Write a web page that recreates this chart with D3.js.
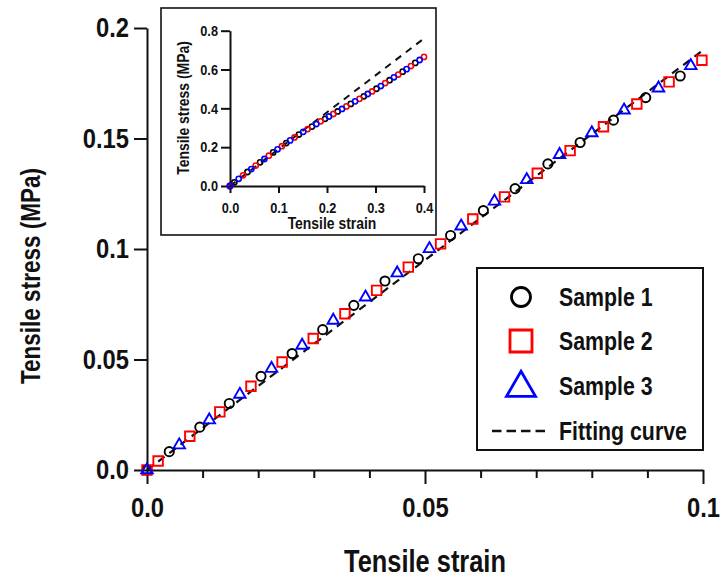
<!DOCTYPE html>
<html><head><meta charset="utf-8">
<script src="https://cdn.jsdelivr.net/npm/d3@7"></script>
<style>
body{margin:0;background:#fff}
text{font-family:"Liberation Sans","Roboto",sans-serif;font-weight:bold;fill:#111}
</style>
</head><body><svg id="c" width="724" height="580"></svg>
<script>
// ---------- main chart data ----------
const s1X=[0,0.0040,0.0095,0.0148,0.0205,0.0261,0.0316,0.0372,0.0428,0.0488,0.0546,0.0605,0.0662,0.0721,0.0779,0.0839,0.0897,0.0959];
const s1Y=[0,0.0083,0.0194,0.0301,0.0424,0.0527,0.0635,0.0745,0.0855,0.0956,0.1061,0.1174,0.1273,0.1385,0.1482,0.1583,0.1685,0.1783];
const s2X=[0,0.0020,0.0077,0.0131,0.0187,0.0243,0.0299,0.0356,0.0413,0.0470,0.0528,0.0586,0.0643,0.0702,0.0761,0.0821,0.0881,0.0939,0.0998];
const s2Y=[0,0.0041,0.0153,0.0263,0.0379,0.0489,0.0595,0.0707,0.0813,0.0918,0.1023,0.1136,0.1236,0.1343,0.1445,0.1553,0.1656,0.1756,0.1854];
const s3X=[0,0.0058,0.0112,0.0167,0.0224,0.0279,0.0335,0.0393,0.0450,0.0508,0.0565,0.0625,0.0683,0.0742,0.0800,0.0858,0.0920,0.0978];
const s3Y=[0,0.0113,0.0226,0.0342,0.0459,0.0564,0.0677,0.0782,0.0891,0.1001,0.1103,0.1216,0.1313,0.1427,0.1525,0.1628,0.1728,0.1829];
const fitX=[0,0.1];
const fitY=[0,0.19];
const xTicks=[0,0.05,0.1], xTickLabels=["0.0","0.05","0.1"];
const xMinor=[0.01,0.02,0.03,0.04,0.06,0.07,0.08,0.09];
const yTicks=[0,0.05,0.1,0.15,0.2], yTickLabels=["0.0","0.05","0.1","0.15","0.2"];
const seriesNames=["Sample 1","Sample 2","Sample 3","Fitting curve"];
const xTitle="Tensile strain", yTitle="Tensile stress (MPa)";

// ---------- inset data ----------
const i1X=[0,0.009,0.036,0.062,0.089,0.116,0.142,0.169,0.196,0.222,0.249,0.276,0.302,0.329,0.356,0.382];
const i1Y=[0,0.019,0.072,0.122,0.173,0.221,0.265,0.306,0.346,0.384,0.423,0.462,0.501,0.545,0.589,0.634];
const i2X=[0,0.027,0.053,0.080,0.107,0.133,0.160,0.187,0.213,0.240,0.267,0.293,0.320,0.347,0.373,0.400];
const i2Y=[0,0.055,0.105,0.156,0.205,0.250,0.293,0.333,0.371,0.410,0.449,0.487,0.530,0.574,0.618,0.665];
const i3X=[0,0.018,0.044,0.071,0.098,0.124,0.151,0.178,0.204,0.231,0.258,0.284,0.311,0.338,0.364,0.391];
const i3Y=[0,0.037,0.087,0.139,0.189,0.235,0.279,0.319,0.358,0.397,0.436,0.474,0.515,0.560,0.602,0.649];
const iFitX=[0,0.4];
const iFitY=[0,0.76];
const ixTicks=[0,0.1,0.2,0.3,0.4], ixTickLabels=["0.0","0.1","0.2","0.3","0.4"];
const iyTicks=[0,0.2,0.4,0.6,0.8], iyTickLabels=["0.0","0.2","0.4","0.6","0.8"];

const colors=["#000000","#ff0000","#0000ff"];
const K=0.82;  // horizontal condensing of the font for words
const KN=0.85; // for numbers

const svg=d3.select("#c");
const x=d3.scaleLinear().domain([0,0.1]).range([147,703]);
const y=d3.scaleLinear().domain([0,0.2]).range([470,28]);

function styleAxis(g,w){
  g.selectAll(".domain").attr("stroke","#111").attr("stroke-width",w);
  g.selectAll(".tick line").attr("stroke","#111").attr("stroke-width",w);
}
function condenseBottom(g,size){
  g.selectAll("text").style("font-size",size+"px").attr("dy","0.72em").attr("transform",`scale(${KN},1)`);
}
function condenseLeft(g,size){
  g.selectAll("text").style("font-size",size+"px").each(function(){
    const t=d3.select(this); t.attr("x",(+t.attr("x"))/KN).attr("transform",`scale(${KN},1)`);
  });
}
function label(parent,tx,ty,rot,size,str,anchor){
  return parent.append("text").attr("transform",`translate(${tx},${ty}) rotate(${rot}) scale(${K},1)`)
    .attr("text-anchor",anchor||"middle").attr("dominant-baseline","central")
    .style("font-size",size+"px").text(str);
}

// axes
const gx=svg.append("g").attr("transform","translate(0,470)")
  .call(d3.axisBottom(x).tickValues(xTicks).tickSize(14).tickSizeOuter(0).tickPadding(13)
    .tickFormat((d,i)=>xTickLabels[i]));
styleAxis(gx,2); condenseBottom(gx,28);
const gxm=svg.append("g").attr("transform","translate(0,470)")
  .call(d3.axisBottom(x).tickValues(xMinor).tickSize(8).tickFormat(""));
gxm.select(".domain").remove(); styleAxis(gxm,2);
const gy=svg.append("g").attr("transform","translate(147,0)")
  .call(d3.axisLeft(y).tickValues(yTicks).tickSize(13).tickSizeOuter(0).tickPadding(5)
    .tickFormat((d,i)=>yTickLabels[i]));
styleAxis(gy,2); condenseLeft(gy,28);

label(svg,425,561,0,31,xTitle);
label(svg,30,276,-90,27.5,yTitle);

// fitting line
const line=d3.line().x(d=>x(d[0])).y(d=>y(d[1]));
svg.append("path").datum(d3.zip(fitX,fitY)).attr("d",line)
  .attr("fill","none").attr("stroke","#111").attr("stroke-width",2.2).attr("stroke-dasharray","8,6");

function circlePath(r){return `M${-r},0a${r},${r} 0 1,0 ${2*r},0a${r},${r} 0 1,0 ${-2*r},0Z`;}
function squarePath(s){const h=s/2;return `M${-h},${-h}H${h}V${h}H${-h}Z`;}
function triPath(s){const h=s*Math.sqrt(3)/2;return `M0,${-2*h/3}L${s/2},${h/3}L${-s/2},${h/3}Z`;}
const shapesMain=[circlePath(4.6),squarePath(9.5),triPath(11.5)];
const mains=[[s1X,s1Y],[s2X,s2Y],[s3X,s3Y]];
mains.forEach((s,k)=>{
  svg.append("g").selectAll("path").data(d3.zip(s[0],s[1])).join("path")
    .attr("transform",d=>`translate(${x(d[0])},${y(d[1])})`)
    .attr("d",shapesMain[k]).attr("fill","none").attr("stroke",colors[k]).attr("stroke-width",1.9);
});

// legend
const lg=svg.append("g");
lg.append("rect").attr("x",477).attr("y",268).attr("width",226).attr("height",182)
  .attr("fill","#fff").attr("stroke","#111").attr("stroke-width",2);
const rows=[297,341,386,431];
const legShapes=[circlePath(9.5),squarePath(22),triPath(29)];
rows.forEach((ry,k)=>{
  if(k<3){
    lg.append("path").attr("transform",`translate(521,${k===2?ry+2:ry})`).attr("d",legShapes[k])
      .attr("fill","none").attr("stroke",colors[k]).attr("stroke-width",2.8);
  } else {
    lg.append("line").attr("x1",492).attr("x2",545).attr("y1",ry).attr("y2",ry)
      .attr("stroke","#111").attr("stroke-width",2.5).attr("stroke-dasharray","9.5,5");
  }
  label(lg,559,ry,0,26,seriesNames[k],"start");
});

// inset
const ins=svg.append("g");
ins.append("rect").attr("x",161).attr("y",8).attr("width",275).attr("height",227)
  .attr("fill","#fff").attr("stroke","#111").attr("stroke-width",1.6);
const ix=d3.scaleLinear().domain([0,0.4]).range([230,424]);
const iy=d3.scaleLinear().domain([0,0.8]).range([186,30.7]);
const igx=ins.append("g").attr("transform","translate(0,186)")
  .call(d3.axisBottom(ix).tickValues(ixTicks).tickSize(7).tickSizeOuter(0).tickPadding(9)
   .tickFormat((d,i)=>ixTickLabels[i]));
styleAxis(igx,2); condenseBottom(igx,15);
const igy=ins.append("g").attr("transform","translate(230,0)")
  .call(d3.axisLeft(iy).tickValues(iyTicks).tickSize(9).tickSizeOuter(0).tickPadding(3)
   .tickFormat((d,i)=>iyTickLabels[i]));
styleAxis(igy,2); condenseLeft(igy,15);
label(ins,332,223,0,17,xTitle);
label(ins,183,108,-90,17,yTitle);
const iline=d3.line().x(d=>ix(d[0])).y(d=>iy(d[1]));
ins.append("path").datum(d3.zip(iFitX,iFitY)).attr("d",iline)
  .attr("fill","none").attr("stroke","#111").attr("stroke-width",2).attr("stroke-dasharray","7,6");
const insets=[[i1X,i1Y],[i2X,i2Y],[i3X,i3Y]];
insets.forEach((s,k)=>{
  ins.append("g").selectAll("circle").data(d3.zip(s[0],s[1])).join("circle")
    .attr("cx",d=>ix(d[0])).attr("cy",d=>iy(d[1])).attr("r",2.6)
    .attr("fill","none").attr("stroke",colors[k]).attr("stroke-width",1.6);
});
</script>
</body></html>
